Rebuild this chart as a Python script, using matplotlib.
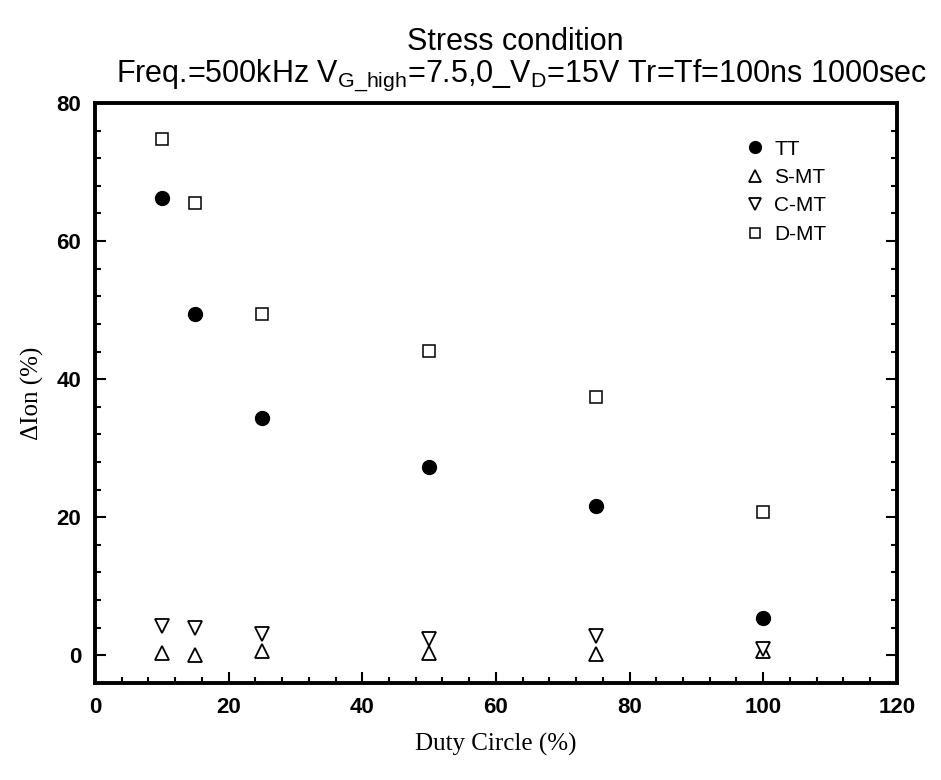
import numpy as np
import matplotlib.pyplot as plt
from matplotlib.ticker import MultipleLocator

duty = [10, 15, 25, 50, 75, 100]
tt = [66.2, 49.5, 34.4, 27.3, 21.7, 5.4]
s_mt = [0.4, 0.0, 0.6, 0.4, 0.2, 0.6]
c_mt = [4.2, 3.9, 3.1, 2.3, 2.8, 0.9]
d_mt = [74.8, 65.5, 49.5, 44.1, 37.4, 20.8]

plt.rcParams["font.family"] = "Liberation Sans"

fig = plt.figure(figsize=(9.41, 7.8), dpi=100)
ax = fig.add_axes([0.101, 0.1244, 0.852, 0.7436])

ax.plot(duty, tt, "o", color="black", markersize=10, label="TT")
ax.plot(duty, s_mt, "^", mfc="white", mec="black", mew=1.3, markersize=10, label="S-MT")
ax.plot(duty, c_mt, "v", mfc="white", mec="black", mew=1.3, markersize=10, label="C-MT")
ax.plot(duty, d_mt, "s", mfc="white", mec="black", mew=1.1, markersize=9, label="D-MT")

ax.set_xlim(0, 120)
ax.set_ylim(-4, 80)
ax.xaxis.set_major_locator(MultipleLocator(20))
ax.xaxis.set_minor_locator(MultipleLocator(4))
ax.yaxis.set_major_locator(MultipleLocator(20))
ax.yaxis.set_minor_locator(MultipleLocator(4))
ax.tick_params(which="both", direction="in", right=True, top=False, width=1.5, labelsize=16)
ax.tick_params(which="major", length=8, pad=10)
ax.tick_params(which="minor", length=4)
for lab in ax.get_xticklabels() + ax.get_yticklabels():
    lab.set_fontweight("bold")
for sp in ax.spines.values():
    sp.set_linewidth(2.8)

ax.set_xlabel("Duty Circle (%)", fontfamily="Liberation Serif", fontsize=18, labelpad=11)
ax.set_ylabel("\u0394Ion (%)", fontfamily="Liberation Serif", fontsize=18, labelpad=9)

leg = ax.legend(loc="upper left", frameon=False, markerscale=0.85,
                prop={"family": "Liberation Sans", "size": 15},
                handlelength=1.0, handletextpad=0.42, labelspacing=0.45,
                borderaxespad=0, bbox_to_anchor=(0.80, 0.951))

fig.text(0.548, 0.936, "Stress condition", ha="center", va="baseline", fontsize=22)
fig.text(0.554, 0.895, r"Freq.=500kHz V$_{\mathregular{G\_high}}$=7.5,0_V$_{\mathregular{D}}$=15V Tr=Tf=100ns 1000sec",
         ha="center", va="baseline", fontsize=22)

fig.savefig("out.png", dpi=100)
